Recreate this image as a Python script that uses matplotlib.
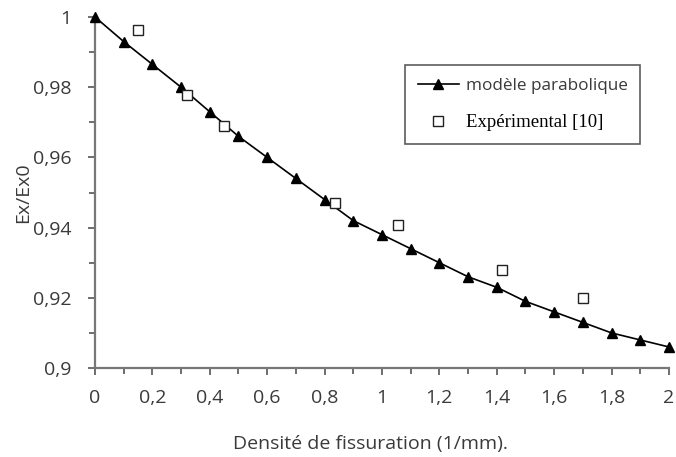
import matplotlib
matplotlib.use('Agg')
import matplotlib.pyplot as plt
from matplotlib.ticker import MultipleLocator, FuncFormatter

# parabolic model
densite_modele = [0, 0.1, 0.2, 0.3, 0.4, 0.5, 0.6, 0.7, 0.8, 0.9, 1.0,
                  1.1, 1.2, 1.3, 1.4, 1.5, 1.6, 1.7, 1.8, 1.9, 2.0]
ex_modele = [1.0, 0.993, 0.9865, 0.980, 0.973, 0.966, 0.960, 0.954, 0.948, 0.942, 0.938,
             0.934, 0.930, 0.926, 0.923, 0.919, 0.916, 0.913, 0.910, 0.908, 0.906]

# experimental points [10]
densite_exp = [0.15, 0.32, 0.45, 0.835, 1.055, 1.42, 1.70]
ex_exp = [0.9963, 0.9778, 0.969, 0.947, 0.9407, 0.928, 0.920]

plt.rcParams['font.family'] = ['Open Sans', 'DejaVu Sans']
gris = '#3a3a3a'
fs = 14

fig = plt.figure(figsize=(6.76, 4.57), dpi=100)
ax = fig.add_axes([0.1405, 0.1947, 0.849, 0.7681])

ax.plot(densite_modele, ex_modele, color='black', lw=1.2, marker='^', markersize=7,
        label='modèle parabolique', clip_on=False, zorder=3)
ax.plot(densite_exp, ex_exp, ls='none', marker='s', markersize=6.5, markerfacecolor='white',
        markeredgecolor='#222222', markeredgewidth=1.0, label='Expérimental [10]', zorder=4)

ax.set_xlim(0, 2)
ax.set_ylim(0.9, 1.0)
ax.xaxis.set_major_locator(MultipleLocator(0.2))
ax.xaxis.set_minor_locator(MultipleLocator(0.1))
ax.yaxis.set_major_locator(MultipleLocator(0.02))
ax.yaxis.set_minor_locator(MultipleLocator(0.01))

def virgule(v, pos):
    s = ('%.2f' % v).rstrip('0').rstrip('.')
    return s.replace('.', ',')

ax.xaxis.set_major_formatter(FuncFormatter(virgule))
ax.yaxis.set_major_formatter(FuncFormatter(virgule))

for side in ['top', 'right']:
    ax.spines[side].set_visible(False)
for side in ['left', 'bottom']:
    ax.spines[side].set_color('#777777')
    ax.spines[side].set_linewidth(1.6)

ax.tick_params(which='both', direction='out', color='#555555', labelsize=fs,
               labelcolor=gris)
ax.tick_params(which='major', length=5, width=1.2)
ax.tick_params(which='minor', length=4, width=1.2)
ax.tick_params(axis='x', pad=10)
ax.tick_params(axis='y', pad=12)

ax.set_xlabel('Densité de fissuration (1/mm).', fontsize=fs, color=gris)
ax.xaxis.set_label_coords(0.48, -0.19)
ax.set_ylabel('Ex/Ex0', fontsize=fs, color=gris)
ax.yaxis.set_label_coords(-0.11, 0.5)

leg = ax.legend(loc='upper left', bbox_to_anchor=(0.540, 0.863), frameon=True, fancybox=False,
                edgecolor='#333333', fontsize=12.3, handlelength=2.4, handletextpad=0.4,
                borderpad=0.75, labelspacing=1.2, borderaxespad=0)
leg.get_frame().set_linewidth(1.2)
texts = leg.get_texts()
texts[0].set_color(gris)
texts[1].set_family(['Liberation Serif', 'DejaVu Serif'])
texts[1].set_fontsize(13.5)
texts[1].set_color('black')

fig.savefig('out.png', dpi=100)
